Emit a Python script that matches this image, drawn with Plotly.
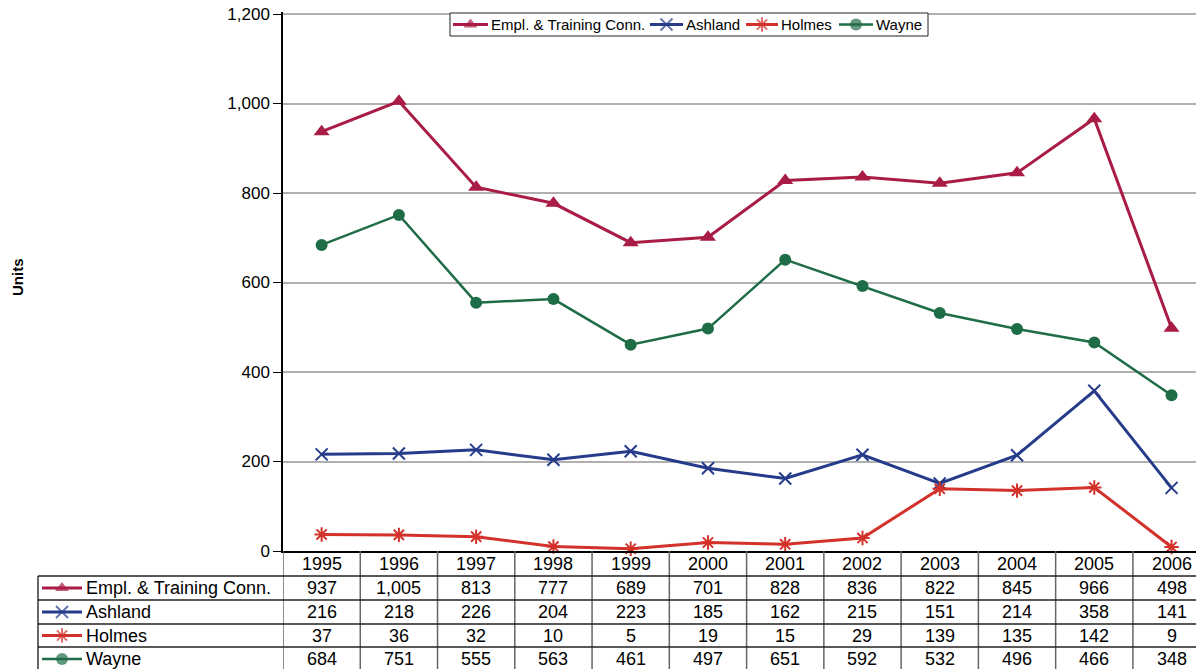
import plotly.graph_objects as go

years = ["1995", "1996", "1997", "1998", "1999", "2000", "2001", "2002", "2003", "2004", "2005", "2006"]
series_names = ["Empl. & Training Conn.", "Ashland", "Holmes", "Wayne"]
empl = [937, 1005, 813, 777, 689, 701, 828, 836, 822, 845, 966, 498]
ashland = [216, 218, 226, 204, 223, 185, 162, 215, 151, 214, 358, 141]
holmes = [37, 36, 32, 10, 5, 19, 15, 29, 139, 135, 142, 9]
wayne = [684, 751, 555, 563, 461, 497, 651, 592, 532, 496, 466, 348]
y_ticks = [0, 200, 400, 600, 800, 1000, 1200]
y_ticktext = ["0", "200", "400", "600", "800", "1,000", "1,200"]

all_values = [empl, ashland, holmes, wayne]
colors = ["#A91C45", "#263C8A", "#D3322B", "#1F6D47"]
symbols = ["triangle-up", "x-thin", "asterisk-open", "circle"]
msizes = [14, 12, 12, 12]
lwidths = [3, 3, 3, 2.5]

# Screen is 1204x669; the page body has an 8px margin, so the figure is
# made 8px smaller and the helper axes map screen pixels directly.
SW, SH = 1204, 669
OFF = 8
W, H = SW - OFF, SH - OFF
FONT = "Liberation Sans, Arial, sans-serif"
plot_left, y1200_px, plot_bottom = 283, 14, 551   # screen px
y_top = 1204
plot_top = plot_bottom - (plot_bottom - y1200_px) * y_top / 1200
x_max = 11.42
colw = (SW - plot_left) / (x_max + 0.5)
table_left = 38
row_edges = [551, 576, 600, 624, 647, 671]
TABLE_FONT = 18

def mline_for(s, c):
    return dict(color=c, width=2) if s in ("x-thin", "asterisk-open") else dict(width=0)

fig = go.Figure()

for name, vals, c, s, ms, lw in zip(series_names, all_values, colors, symbols, msizes, lwidths):
    fig.add_trace(go.Scatter(
        x=years, y=vals, name=name, mode="lines+markers",
        line=dict(color=c, width=lw),
        marker=dict(symbol=s, size=ms, color=c, line=mline_for(s, c)),
        cliponaxis=False, showlegend=False,
        xaxis="x", yaxis="y",
    ))

# ---- top legend (manual, pixel-space helper axes) ----
legend_box = dict(x0=450, x1=928, y0=13, y1=36)
legend_items = [(453, 488), (650, 683), (746, 778), (839, 873)]
ly = (legend_box["y0"] + legend_box["y1"]) / 2
for (gx0, gx1), name, c, s, lw in zip(legend_items, series_names, colors, symbols, lwidths):
    fig.add_trace(go.Scatter(
        x=[gx0, (gx0 + gx1) / 2, gx1], y=[ly, ly, ly], mode="lines+markers",
        line=dict(color=c, width=lw),
        marker=dict(symbol=s, size=[0, 12, 0], color=c, line=mline_for(s, c)),
        showlegend=False, hoverinfo="skip", xaxis="x2", yaxis="y2", cliponaxis=False,
    ))
    fig.add_annotation(x=gx1 + 1, y=ly, xref="x2", yref="y2", text=name, showarrow=False,
                       xanchor="left", yanchor="middle",
                       font=dict(family=FONT, size=15, color="#000"))

# ---- table legend glyphs + row labels ----
for i, (name, c, s, lw) in enumerate(zip(series_names, colors, symbols, lwidths)):
    yc = (row_edges[i + 1] + row_edges[i + 2]) / 2
    fig.add_trace(go.Scatter(
        x=[42, 62, 82], y=[yc, yc, yc], mode="lines+markers",
        line=dict(color=c, width=lw),
        marker=dict(symbol=s, size=[0, 12, 0], color=c, line=mline_for(s, c)),
        showlegend=False, hoverinfo="skip", xaxis="x2", yaxis="y2", cliponaxis=False,
    ))
    fig.add_annotation(x=84, y=yc, xref="x2", yref="y2", text=name, showarrow=False,
                       xanchor="left", yanchor="middle",
                       font=dict(family=FONT, size=TABLE_FONT, color="#000"))

# ---- header row year labels and values ----
hy = (row_edges[0] + row_edges[1]) / 2
for j, yr in enumerate(years):
    xc = plot_left + (j + 0.5) * colw
    fig.add_annotation(x=xc, y=hy, xref="x2", yref="y2", text=yr, showarrow=False,
                       xanchor="center", yanchor="middle",
                       font=dict(family=FONT, size=TABLE_FONT, color="#000"))
    for i, vals in enumerate(all_values):
        yc = (row_edges[i + 1] + row_edges[i + 2]) / 2
        fig.add_annotation(x=xc, y=yc, xref="x2", yref="y2", text=f"{vals[j]:,}",
                           showarrow=False, xanchor="center", yanchor="middle",
                           font=dict(family=FONT, size=TABLE_FONT, color="#000"))

# ---- y-axis title ----
fig.add_annotation(x=17, y=277, xref="x2", yref="y2", text="<b>Units</b>", showarrow=False,
                   textangle=-90, xanchor="center", yanchor="middle",
                   font=dict(family=FONT, size=15, color="#000"))

shapes = []
# legend box
shapes.append(dict(type="rect", xref="x2", yref="y2", layer="below",
                   x0=legend_box["x0"], x1=legend_box["x1"],
                   y0=legend_box["y0"], y1=legend_box["y1"],
                   line=dict(color="#222", width=1), fillcolor="white"))
# vertical column separators
for j in range(len(years) + 1):
    shapes.append(dict(type="line", xref="x", yref="y2", x0=j - 0.5, x1=j - 0.5,
                       y0=row_edges[0], y1=row_edges[-1], line=dict(color="#666", width=1.5)))
# table left border
shapes.append(dict(type="line", xref="x2", yref="y2", x0=table_left, x1=table_left,
                   y0=row_edges[1], y1=row_edges[-1], line=dict(color="#333", width=1.5)))
# horizontal row lines
for ye in row_edges[1:-1]:
    shapes.append(dict(type="line", xref="x2", yref="y2", x0=table_left, x1=SW,
                       y0=ye, y1=ye, line=dict(color="#222", width=1.5)))

fig.update_layout(
    width=W, height=H,
    margin=dict(l=0, r=0, t=0, b=0, autoexpand=False),
    paper_bgcolor="white", plot_bgcolor="rgba(0,0,0,0)",
    shapes=shapes,
    showlegend=False,
    xaxis=dict(domain=[(plot_left - OFF) / W, 1], type="category", range=[-0.5, x_max],
               showticklabels=False, ticks="", showgrid=False, zeroline=False,
               showline=True, linecolor="#000", linewidth=1.5, anchor="y", automargin=False),
    yaxis=dict(domain=[(SH - plot_bottom) / H, (SH - plot_top) / H], range=[0, y_top],
               tickvals=y_ticks, ticktext=y_ticktext, ticks="outside", ticklen=8,
               tickcolor="#000", showline=True, linecolor="#000", linewidth=1.5,
               showgrid=True, gridcolor="#B0B0B0", gridwidth=1.5, zeroline=False,
               tickfont=dict(family=FONT, size=17, color="#000"), anchor="x",
               ticklabeloverflow="allow", automargin=False),
    xaxis2=dict(domain=[0, 1], range=[OFF, SW], visible=False, anchor="y2", fixedrange=True),
    yaxis2=dict(domain=[0, 1], range=[SH, OFF], visible=False, anchor="x2", fixedrange=True),
)

fig.write_html("out.html")
